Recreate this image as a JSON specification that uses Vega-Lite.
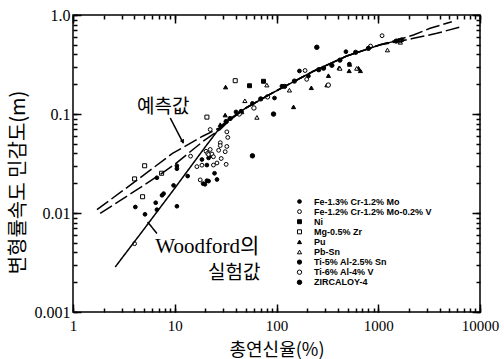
{
  "$schema": "https://vega.github.io/schema/vega-lite/v6.json",
  "width": 407,
  "height": 297,
  "autosize": "none",
  "padding": {"left": 73, "top": 15, "right": 24, "bottom": 47},
  "background": "white",
  "config": {
    "view": {"stroke": "black", "strokeWidth": 1.5, "fill": null},
    "axis": {"domain": false, "grid": false, "ticks": true, "tickColor": "black", "tickWidth": 1.5, "tickOpacity": 1, "labelColor": "black", "titleColor": "black", "labelFlush": false, "labelOverlap": false, "labelBound": false, "zindex": 2}
  },
  "datasets": {
    "pts": [
      {"x": 4.1, "y": 0.0115, "alloy": "Fe-1.3% Cr-1.2% Mo"},
      {"x": 5.1, "y": 0.0097, "alloy": "Fe-1.3% Cr-1.2% Mo"},
      {"x": 6.68, "y": 0.0227, "alloy": "Fe-1.3% Cr-1.2% Mo"},
      {"x": 6.5, "y": 0.0127, "alloy": "Fe-1.3% Cr-1.2% Mo"},
      {"x": 6.68, "y": 0.0108, "alloy": "Fe-1.3% Cr-1.2% Mo"},
      {"x": 7.77, "y": 0.0157, "alloy": "Fe-1.3% Cr-1.2% Mo"},
      {"x": 7.5, "y": 0.0151, "alloy": "Fe-1.3% Cr-1.2% Mo"},
      {"x": 9.74, "y": 0.019, "alloy": "Fe-1.3% Cr-1.2% Mo"},
      {"x": 10.5, "y": 0.030, "alloy": "Fe-1.3% Cr-1.2% Mo"},
      {"x": 10.5, "y": 0.028, "alloy": "Fe-1.3% Cr-1.2% Mo"},
      {"x": 10.5, "y": 0.0117, "alloy": "Fe-1.3% Cr-1.2% Mo"},
      {"x": 13.4, "y": 0.0236, "alloy": "Fe-1.3% Cr-1.2% Mo"},
      {"x": 18.5, "y": 0.0347, "alloy": "Fe-1.3% Cr-1.2% Mo"},
      {"x": 19, "y": 0.0198, "alloy": "Fe-1.3% Cr-1.2% Mo"},
      {"x": 19.8, "y": 0.0195, "alloy": "Fe-1.3% Cr-1.2% Mo"},
      {"x": 20.7, "y": 0.0212, "alloy": "Fe-1.3% Cr-1.2% Mo"},
      {"x": 21.5, "y": 0.021, "alloy": "Fe-1.3% Cr-1.2% Mo"},
      {"x": 24.6, "y": 0.0252, "alloy": "Fe-1.3% Cr-1.2% Mo"},
      {"x": 26, "y": 0.0218, "alloy": "Fe-1.3% Cr-1.2% Mo"},
      {"x": 20.7, "y": 0.0305, "alloy": "Fe-1.3% Cr-1.2% Mo"},
      {"x": 21.5, "y": 0.036, "alloy": "Fe-1.3% Cr-1.2% Mo"},
      {"x": 23, "y": 0.038, "alloy": "Fe-1.3% Cr-1.2% Mo"},
      {"x": 481, "y": 0.426, "alloy": "Fe-1.3% Cr-1.2% Mo"},
      {"x": 168, "y": 0.272, "alloy": "Fe-1.3% Cr-1.2% Mo"},
      {"x": 206, "y": 0.242, "alloy": "Fe-1.3% Cr-1.2% Mo"},
      {"x": 113, "y": 0.191, "alloy": "Fe-1.3% Cr-1.2% Mo"},
      {"x": 95.6, "y": 0.145, "alloy": "Fe-1.3% Cr-1.2% Mo"},
      {"x": 58, "y": 0.128, "alloy": "Fe-1.3% Cr-1.2% Mo"},
      {"x": 520, "y": 0.319, "alloy": "Fe-1.3% Cr-1.2% Mo"},
      {"x": 40, "y": 0.105, "alloy": "Fe-1.3% Cr-1.2% Mo"},
      {"x": 4.03, "y": 0.0049, "alloy": "Fe-1.2% Cr-1.2% Mo-0.2% V"},
      {"x": 14.3, "y": 0.0375, "alloy": "Fe-1.2% Cr-1.2% Mo-0.2% V"},
      {"x": 16.5, "y": 0.0294, "alloy": "Fe-1.2% Cr-1.2% Mo-0.2% V"},
      {"x": 18.5, "y": 0.0304, "alloy": "Fe-1.2% Cr-1.2% Mo-0.2% V"},
      {"x": 17.8, "y": 0.0216, "alloy": "Fe-1.2% Cr-1.2% Mo-0.2% V"},
      {"x": 20.3, "y": 0.042, "alloy": "Fe-1.2% Cr-1.2% Mo-0.2% V"},
      {"x": 21, "y": 0.04, "alloy": "Fe-1.2% Cr-1.2% Mo-0.2% V"},
      {"x": 21.5, "y": 0.039, "alloy": "Fe-1.2% Cr-1.2% Mo-0.2% V"},
      {"x": 22.3, "y": 0.0438, "alloy": "Fe-1.2% Cr-1.2% Mo-0.2% V"},
      {"x": 23.2, "y": 0.0394, "alloy": "Fe-1.2% Cr-1.2% Mo-0.2% V"},
      {"x": 24, "y": 0.037, "alloy": "Fe-1.2% Cr-1.2% Mo-0.2% V"},
      {"x": 24, "y": 0.0305, "alloy": "Fe-1.2% Cr-1.2% Mo-0.2% V"},
      {"x": 26, "y": 0.032, "alloy": "Fe-1.2% Cr-1.2% Mo-0.2% V"},
      {"x": 28, "y": 0.0513, "alloy": "Fe-1.2% Cr-1.2% Mo-0.2% V"},
      {"x": 28, "y": 0.048, "alloy": "Fe-1.2% Cr-1.2% Mo-0.2% V"},
      {"x": 28.6, "y": 0.0355, "alloy": "Fe-1.2% Cr-1.2% Mo-0.2% V"},
      {"x": 31.3, "y": 0.0416, "alloy": "Fe-1.2% Cr-1.2% Mo-0.2% V"},
      {"x": 32.5, "y": 0.047, "alloy": "Fe-1.2% Cr-1.2% Mo-0.2% V"},
      {"x": 32.5, "y": 0.066, "alloy": "Fe-1.2% Cr-1.2% Mo-0.2% V"},
      {"x": 33.2, "y": 0.058, "alloy": "Fe-1.2% Cr-1.2% Mo-0.2% V"},
      {"x": 32, "y": 0.031, "alloy": "Fe-1.2% Cr-1.2% Mo-0.2% V"},
      {"x": 22.3, "y": 0.0697, "alloy": "Fe-1.2% Cr-1.2% Mo-0.2% V"},
      {"x": 27, "y": 0.043, "alloy": "Fe-1.2% Cr-1.2% Mo-0.2% V"},
      {"x": 1090, "y": 0.618, "alloy": "Fe-1.2% Cr-1.2% Mo-0.2% V"},
      {"x": 840, "y": 0.486, "alloy": "Fe-1.2% Cr-1.2% Mo-0.2% V"},
      {"x": 191, "y": 0.275, "alloy": "Fe-1.2% Cr-1.2% Mo-0.2% V"},
      {"x": 198, "y": 0.224, "alloy": "Fe-1.2% Cr-1.2% Mo-0.2% V"},
      {"x": 54.3, "y": 0.193, "alloy": "Ni"},
      {"x": 74.5, "y": 0.214, "alloy": "Ni"},
      {"x": 4.03, "y": 0.0221, "alloy": "Mg-0.5% Zr"},
      {"x": 5.06, "y": 0.030, "alloy": "Mg-0.5% Zr"},
      {"x": 4.83, "y": 0.0146, "alloy": "Mg-0.5% Zr"},
      {"x": 7.43, "y": 0.0252, "alloy": "Mg-0.5% Zr"},
      {"x": 20.7, "y": 0.093, "alloy": "Mg-0.5% Zr"},
      {"x": 39.3, "y": 0.217, "alloy": "Mg-0.5% Zr"},
      {"x": 31.6, "y": 0.187, "alloy": "Pu"},
      {"x": 31.3, "y": 0.0975, "alloy": "Pu"},
      {"x": 147, "y": 0.118, "alloy": "Pu"},
      {"x": 220, "y": 0.184, "alloy": "Pu"},
      {"x": 313, "y": 0.196, "alloy": "Pu"},
      {"x": 324, "y": 0.244, "alloy": "Pu"},
      {"x": 413, "y": 0.293, "alloy": "Pu"},
      {"x": 518, "y": 0.273, "alloy": "Pu"},
      {"x": 523, "y": 0.317, "alloy": "Pu"},
      {"x": 640, "y": 0.29, "alloy": "Pu"},
      {"x": 668, "y": 0.273, "alloy": "Pu"},
      {"x": 28, "y": 0.078, "alloy": "Pu"},
      {"x": 80.4, "y": 0.196, "alloy": "Pb-Sn"},
      {"x": 134, "y": 0.174, "alloy": "Pb-Sn"},
      {"x": 64.2, "y": 0.0924, "alloy": "Pb-Sn"},
      {"x": 48.9, "y": 0.136, "alloy": "Pb-Sn"},
      {"x": 45.6, "y": 0.105, "alloy": "Pb-Sn"},
      {"x": 1231, "y": 0.443, "alloy": "Pb-Sn"},
      {"x": 1650, "y": 0.53, "alloy": "Pb-Sn"},
      {"x": 614, "y": 0.289, "alloy": "Pb-Sn"},
      {"x": 420, "y": 0.289, "alloy": "Pb-Sn"},
      {"x": 35, "y": 0.09, "alloy": "Ti-5% Al-2.5% Sn"},
      {"x": 45, "y": 0.106, "alloy": "Ti-5% Al-2.5% Sn"},
      {"x": 70, "y": 0.142, "alloy": "Ti-5% Al-2.5% Sn"},
      {"x": 120, "y": 0.19, "alloy": "Ti-5% Al-2.5% Sn"},
      {"x": 150, "y": 0.215, "alloy": "Ti-5% Al-2.5% Sn"},
      {"x": 260, "y": 0.28, "alloy": "Ti-5% Al-2.5% Sn"},
      {"x": 290, "y": 0.29, "alloy": "Ti-5% Al-2.5% Sn"},
      {"x": 350, "y": 0.31, "alloy": "Ti-5% Al-2.5% Sn"},
      {"x": 420, "y": 0.35, "alloy": "Ti-5% Al-2.5% Sn"},
      {"x": 600, "y": 0.42, "alloy": "Ti-5% Al-2.5% Sn"},
      {"x": 800, "y": 0.46, "alloy": "Ti-5% Al-2.5% Sn"},
      {"x": 1500, "y": 0.545, "alloy": "Ti-5% Al-2.5% Sn"},
      {"x": 1700, "y": 0.56, "alloy": "Ti-5% Al-2.5% Sn"},
      {"x": 32, "y": 0.084, "alloy": "Ti-5% Al-2.5% Sn"},
      {"x": 60, "y": 0.115, "alloy": "Ti-6% Al-4% V"},
      {"x": 81.6, "y": 0.149, "alloy": "Ti-6% Al-4% V"},
      {"x": 323, "y": 0.196, "alloy": "Ti-6% Al-4% V"},
      {"x": 43, "y": 0.1, "alloy": "Ti-6% Al-4% V"},
      {"x": 1600, "y": 0.55, "alloy": "Ti-6% Al-4% V"},
      {"x": 93.5, "y": 0.0998, "alloy": "ZIRCALOY-4"},
      {"x": 58, "y": 0.0378, "alloy": "ZIRCALOY-4"},
      {"x": 249, "y": 0.472, "alloy": "ZIRCALOY-4"}
    ],
    "curves": [
      {"x": 2.6, "y": 0.00285, "curve": "Woodford"},
      {"x": 5, "y": 0.0069, "curve": "Woodford"},
      {"x": 10, "y": 0.0178, "curve": "Woodford"},
      {"x": 20, "y": 0.0467, "curve": "Woodford"},
      {"x": 29, "y": 0.077, "curve": "Woodford"},
      {"x": 35, "y": 0.09, "curve": "Woodford"},
      {"x": 50, "y": 0.115, "curve": "Woodford"},
      {"x": 93, "y": 0.165, "curve": "Woodford"},
      {"x": 230, "y": 0.27, "curve": "Woodford"},
      {"x": 490, "y": 0.385, "curve": "Woodford"},
      {"x": 1045, "y": 0.5, "curve": "Woodford"},
      {"x": 1700, "y": 0.565, "curve": "Woodford"},
      {"x": 1.72, "y": 0.0108, "curve": "pred-upper"},
      {"x": 4, "y": 0.0205, "curve": "pred-upper"},
      {"x": 9.5, "y": 0.04, "curve": "pred-upper"},
      {"x": 19, "y": 0.06, "curve": "pred-upper"},
      {"x": 28, "y": 0.073, "curve": "pred-upper"},
      {"x": 35, "y": 0.088, "curve": "pred-upper"},
      {"x": 50, "y": 0.115, "curve": "pred-upper"},
      {"x": 93, "y": 0.165, "curve": "pred-upper"},
      {"x": 230, "y": 0.27, "curve": "pred-upper"},
      {"x": 490, "y": 0.385, "curve": "pred-upper"},
      {"x": 1045, "y": 0.5, "curve": "pred-upper"},
      {"x": 1600, "y": 0.565, "curve": "pred-upper"},
      {"x": 2218, "y": 0.628, "curve": "pred-upper"},
      {"x": 3236, "y": 0.734, "curve": "pred-upper"},
      {"x": 5285, "y": 0.856, "curve": "pred-upper"},
      {"x": 1.85, "y": 0.0099, "curve": "pred-lower"},
      {"x": 4, "y": 0.0165, "curve": "pred-lower"},
      {"x": 7.4, "y": 0.025, "curve": "pred-lower"},
      {"x": 10, "y": 0.031, "curve": "pred-lower"},
      {"x": 19, "y": 0.053, "curve": "pred-lower"},
      {"x": 28, "y": 0.07, "curve": "pred-lower"},
      {"x": 35, "y": 0.087, "curve": "pred-lower"},
      {"x": 50, "y": 0.115, "curve": "pred-lower"},
      {"x": 93, "y": 0.165, "curve": "pred-lower"},
      {"x": 230, "y": 0.27, "curve": "pred-lower"},
      {"x": 490, "y": 0.385, "curve": "pred-lower"},
      {"x": 1045, "y": 0.5, "curve": "pred-lower"},
      {"x": 1600, "y": 0.54, "curve": "pred-lower"},
      {"x": 2218, "y": 0.581, "curve": "pred-lower"},
      {"x": 3763, "y": 0.653, "curve": "pred-lower"},
      {"x": 6518, "y": 0.762, "curve": "pred-lower"},
      {"x": 9.03, "y": 0.091, "curve": "pointer-pred"},
      {"x": 12.12, "y": 0.0508, "curve": "pointer-pred"},
      {"x": 5.41, "y": 0.00813, "curve": "pointer-woodford"},
      {"x": 6.68, "y": 0.00621, "curve": "pointer-woodford"}
    ],
    "heads": [
      {"x": 12.0, "y": 0.0525, "target": "pointer-pred"}
    ],
    "notes": [
      {"x": 7.71, "y": 0.1174, "text": "예측값", "kind": "ko"},
      {"x": 38.5, "y": 0.00245, "text": "실험값", "kind": "ko"},
      {"x": 20.9, "y": 0.00455, "text": "Woodford의", "kind": "en"}
    ]
  },
  "layer": [
    {
      "data": {"name": "pts"},
      "mark": {"type": "point", "filled": true, "strokeWidth": 1, "opacity": 1},
      "encoding": {
        "x": {
          "field": "x", "type": "quantitative",
          "scale": {"type": "log", "domain": [1, 10000], "nice": false},
          "axis": {
            "orient": "bottom",
            "values": [1,2,3,4,5,6,7,8,9,10,20,30,40,50,60,70,80,90,100,200,300,400,500,600,700,800,900,1000,2000,3000,4000,5000,6000,7000,8000,9000,10000],
            "labelExpr": "indexof([1,10,100,1000,10000], datum.value) >= 0 ? format(datum.value, 'd') : ''",
            "tickSize": -4,
            "tickColor": "black",
            "tickWidth": 1.5,
            "labelPadding": 10,
            "labelFont": "Liberation Serif",
            "labelFontSize": 15,
            "title": "총연신율(%)",
            "titleFont": "Noto Sans CJK KR",
            "titleFontSize": 18,
            "titleFontWeight": "normal",
            "titleBaseline": "middle",
            "titleY": 38
          }
        },
        "y": {
          "field": "y", "type": "quantitative",
          "scale": {"type": "log", "domain": [0.001, 1], "nice": false},
          "axis": {
            "orient": "left",
            "values": [0.001,0.002,0.003,0.004,0.005,0.006,0.007,0.008,0.009,0.01,0.02,0.03,0.04,0.05,0.06,0.07,0.08,0.09,0.1,0.2,0.3,0.4,0.5,0.6,0.7,0.8,0.9,1],
            "labelExpr": "datum.value == 1 ? '1.0' : datum.value == 0.1 ? '0.1' : datum.value == 0.01 ? '0.01' : datum.value == 0.001 ? '0.001' : ''",
            "tickSize": -4,
            "tickColor": "black",
            "tickWidth": 1.5,
            "labelPadding": 7,
            "labelFont": "Liberation Serif",
            "labelFontSize": 16,
            "title": "변형률속도 민감도(m)",
            "titleFont": "Noto Sans CJK KR",
            "titleFontSize": 20,
            "titleFontWeight": "normal",
            "titleBaseline": "middle",
            "titleAngle": 270,
            "titleX": -55,
            "titleY": 167
          }
        },
        "shape": {
          "field": "alloy", "type": "nominal",
          "scale": {
            "domain": ["Fe-1.3% Cr-1.2% Mo", "Fe-1.2% Cr-1.2% Mo-0.2% V", "Ni", "Mg-0.5% Zr", "Pu", "Pb-Sn", "Ti-5% Al-2.5% Sn", "Ti-6% Al-4% V", "ZIRCALOY-4"],
            "range": ["circle", "circle", "square", "square", "triangle-up", "triangle-up", "circle", "circle", "circle"]
          },
          "legend": {"title": null, "orient": "none", "legendX": 222, "legendY": 182, "labelFont": "Liberation Sans", "labelFontSize": 9, "labelFontWeight": "bold", "labelColor": "black", "labelOffset": 10, "rowPadding": 0.1, "symbolStrokeWidth": 1, "labelLimit": 300, "padding": 0}
        },
        "fill": {
          "field": "alloy", "type": "nominal",
          "scale": {
            "domain": ["Fe-1.3% Cr-1.2% Mo", "Fe-1.2% Cr-1.2% Mo-0.2% V", "Ni", "Mg-0.5% Zr", "Pu", "Pb-Sn", "Ti-5% Al-2.5% Sn", "Ti-6% Al-4% V", "ZIRCALOY-4"],
            "range": ["black", "white", "black", "white", "black", "white", "black", "white", "black"]
          },
          "legend": {"title": null, "orient": "none", "legendX": 222, "legendY": 182, "labelFont": "Liberation Sans", "labelFontSize": 9, "labelFontWeight": "bold", "labelColor": "black", "labelOffset": 10, "rowPadding": 0.1, "symbolStrokeWidth": 1, "labelLimit": 300, "padding": 0}
        },
        "stroke": {
          "field": "alloy", "type": "nominal",
          "scale": {
            "domain": ["Fe-1.3% Cr-1.2% Mo", "Fe-1.2% Cr-1.2% Mo-0.2% V", "Ni", "Mg-0.5% Zr", "Pu", "Pb-Sn", "Ti-5% Al-2.5% Sn", "Ti-6% Al-4% V", "ZIRCALOY-4"],
            "range": ["black", "black", "black", "black", "black", "black", "black", "black", "black"]
          },
          "legend": {"title": null, "orient": "none", "legendX": 222, "legendY": 182, "labelFont": "Liberation Sans", "labelFontSize": 9, "labelFontWeight": "bold", "labelColor": "black", "labelOffset": 10, "rowPadding": 0.1, "symbolStrokeWidth": 1, "labelLimit": 300, "padding": 0}
        },
        "size": {
          "field": "alloy", "type": "nominal",
          "scale": {
            "domain": ["Fe-1.3% Cr-1.2% Mo", "Fe-1.2% Cr-1.2% Mo-0.2% V", "Ni", "Mg-0.5% Zr", "Pu", "Pb-Sn", "Ti-5% Al-2.5% Sn", "Ti-6% Al-4% V", "ZIRCALOY-4"],
            "range": [14, 20, 20, 18, 18, 18, 10, 10, 36]
          },
          "legend": {"title": null, "orient": "none", "legendX": 222, "legendY": 182, "labelFont": "Liberation Sans", "labelFontSize": 9, "labelFontWeight": "bold", "labelColor": "black", "labelOffset": 10, "rowPadding": 0.1, "symbolStrokeWidth": 1, "labelLimit": 300, "padding": 0}
        }
      }
    },
    {
      "data": {"name": "curves"},
      "mark": {"type": "line", "color": "black", "strokeWidth": 1.5},
      "encoding": {
        "x": {
          "field": "x", "type": "quantitative",
          "scale": {"type": "log", "domain": [1, 10000], "nice": false},
          "axis": {
            "orient": "top",
            "values": [1,2,3,4,5,6,7,8,9,10,20,30,40,50,60,70,80,90,100,200,300,400,500,600,700,800,900,1000,2000,3000,4000,5000,6000,7000,8000,9000,10000],
            "labels": false,
            "title": null,
            "tickSize": -4,
            "tickColor": "black",
            "tickWidth": 1.5
          }
        },
        "y": {
          "field": "y", "type": "quantitative",
          "scale": {"type": "log", "domain": [0.001, 1], "nice": false},
          "axis": {
            "orient": "right",
            "values": [0.001,0.002,0.003,0.004,0.005,0.006,0.007,0.008,0.009,0.01,0.02,0.03,0.04,0.05,0.06,0.07,0.08,0.09,0.1,0.2,0.3,0.4,0.5,0.6,0.7,0.8,0.9,1],
            "labels": false,
            "title": null,
            "tickSize": -4,
            "tickColor": "black",
            "tickWidth": 1.5
          }
        },
        "detail": {"field": "curve", "type": "nominal"},
        "strokeDash": {
          "field": "curve", "type": "nominal",
          "scale": {"domain": ["Woodford", "pred-upper", "pred-lower", "pointer-pred", "pointer-woodford"], "range": [[1, 0], [14, 4], [14, 4], [1, 0], [1, 0]]},
          "legend": null
        }
      }
    },
    {
      "data": {"name": "heads"},
      "mark": {"type": "point", "shape": "triangle-down", "filled": true, "color": "black", "size": 22, "angle": 333, "opacity": 1},
      "encoding": {
        "x": {
          "field": "x", "type": "quantitative",
          "scale": {"type": "log", "domain": [1, 10000], "nice": false},
          "axis": {"orient": "bottom", "values": [1, 10, 100, 1000, 10000], "labels": false, "title": null, "tickSize": -8, "tickColor": "black", "tickWidth": 1.5}
        },
        "y": {
          "field": "y", "type": "quantitative",
          "scale": {"type": "log", "domain": [0.001, 1], "nice": false},
          "axis": {"orient": "left", "values": [0.001, 0.01, 0.1, 1], "labels": false, "title": null, "tickSize": -8, "tickColor": "black", "tickWidth": 1.5}
        }
      }
    },
    {
      "data": {"name": "notes"},
      "transform": [{"filter": "datum.kind == 'ko'"}],
      "mark": {"type": "text", "font": "Noto Sans CJK KR", "fontSize": 19, "color": "black", "align": "center", "baseline": "middle"},
      "encoding": {
        "x": {
          "field": "x", "type": "quantitative",
          "scale": {"type": "log", "domain": [1, 10000], "nice": false},
          "axis": {"orient": "top", "values": [1, 10, 100, 1000, 10000], "labels": false, "title": null, "tickSize": -8, "tickColor": "black", "tickWidth": 1.5}
        },
        "y": {
          "field": "y", "type": "quantitative",
          "scale": {"type": "log", "domain": [0.001, 1], "nice": false},
          "axis": {"orient": "right", "values": [0.001, 0.01, 0.1, 1], "labels": false, "title": null, "tickSize": -8, "tickColor": "black", "tickWidth": 1.5}
        },
        "text": {"field": "text"}
      }
    },
    {
      "data": {"name": "notes"},
      "transform": [{"filter": "datum.kind == 'en'"}],
      "mark": {"type": "text", "font": "Liberation Serif, Noto Sans CJK KR", "fontSize": 21, "color": "black", "align": "center", "baseline": "middle"},
      "encoding": {
        "x": {"field": "x", "type": "quantitative", "scale": {"type": "log", "domain": [1, 10000], "nice": false}, "axis": null},
        "y": {"field": "y", "type": "quantitative", "scale": {"type": "log", "domain": [0.001, 1], "nice": false}, "axis": null},
        "text": {"field": "text"}
      }
    }
  ],
  "resolve": {"axis": {"x": "independent", "y": "independent"}}
}
